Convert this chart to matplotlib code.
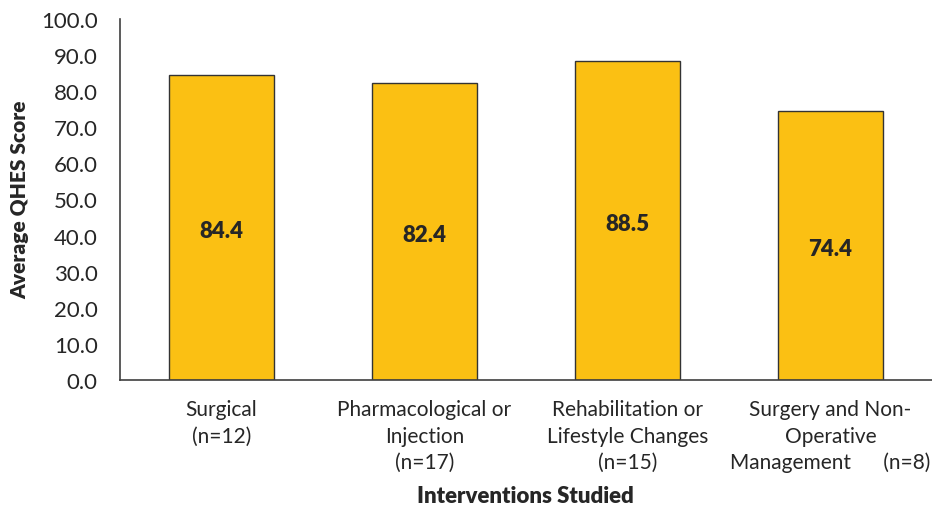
import matplotlib
matplotlib.use("Agg")
import matplotlib.pyplot as plt
import numpy as np

# Average QHES score by intervention type
categories = [
    "Surgical\n(n=12)",
    "Pharmacological or\nInjection\n(n=17)",
    "Rehabilitation or\nLifestyle Changes\n(n=15)",
    "Surgery and Non-\nOperative\nManagement      (n=8)",
]
scores = [84.4, 82.4, 88.5, 74.4]
y_ticks = np.arange(0, 101, 10)

plt.rcParams["font.family"] = ["Lato", "DejaVu Sans"]
text_color = "#262626"

fig = plt.figure(figsize=(9.32, 5.10), dpi=100)
ax = fig.add_axes([120 / 932, 1 - 381 / 510, 812 / 932, 361 / 510])

x = np.arange(len(categories))
bars = ax.bar(x, scores, width=0.52, color="#FBC013", edgecolor="#333333", linewidth=1.0)

for rect, val in zip(bars, scores):
    ax.text(rect.get_x() + rect.get_width() / 2, val / 2 - 0.8, f"{val:.1f}",
            ha="center", va="center", fontsize=16, fontweight="heavy", color=text_color)

ax.set_xlim(-0.5, len(categories) - 0.5)
ax.set_ylim(0, 100)
ax.set_yticks(y_ticks)
ax.set_yticklabels([f"{v:.1f}" for v in y_ticks])
ax.set_xticks(x)
ax.set_xticklabels(categories, linespacing=1.38)

ax.tick_params(axis="y", length=0, pad=16, labelsize=16, labelcolor=text_color)
ax.tick_params(axis="x", length=0, pad=14, labelsize=15, labelcolor=text_color)

for side in ("top", "right"):
    ax.spines[side].set_visible(False)
for side in ("left", "bottom"):
    ax.spines[side].set_color("#404040")
    ax.spines[side].set_linewidth(1.2)

fig.text(20 / 932, 1 - 200 / 510, "Average QHES Score", rotation=90, ha="center", va="center",
         fontsize=15, fontweight="heavy", color=text_color)
fig.text(525 / 932, 1 - 497 / 510, "Interventions Studied", ha="center", va="center",
         fontsize=16, fontweight="heavy", color=text_color)

fig.savefig("out.png", dpi=100)
